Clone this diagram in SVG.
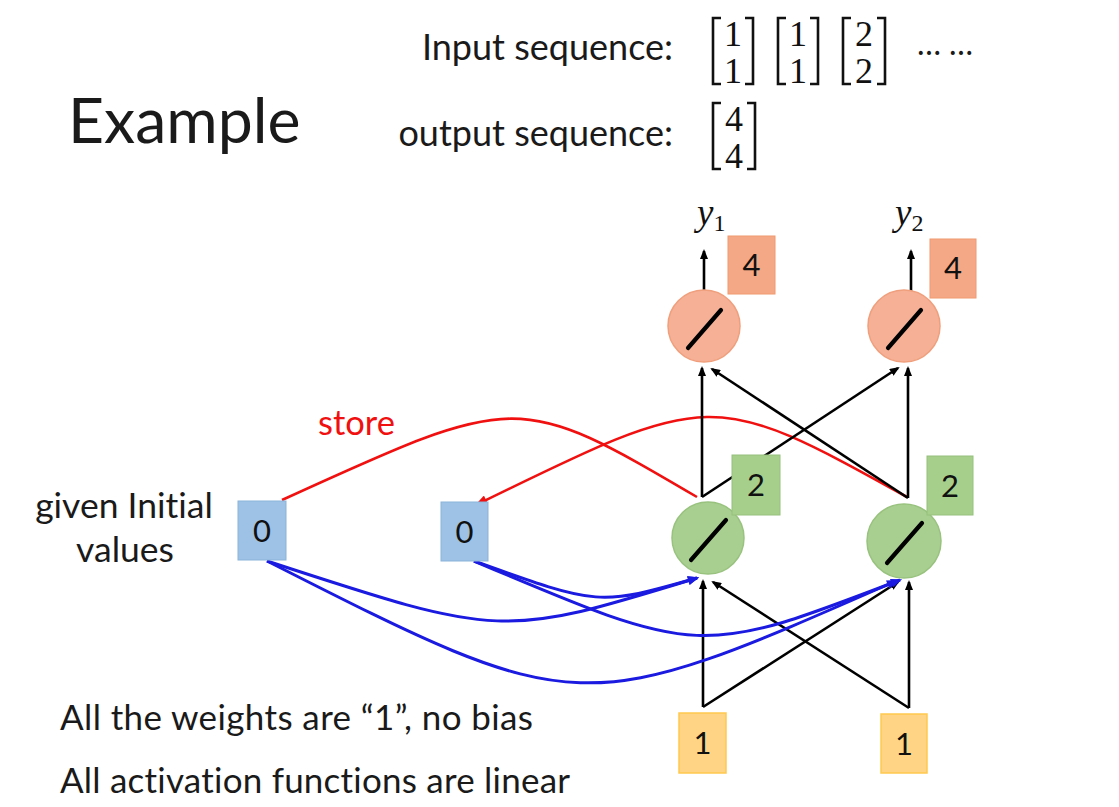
<svg xmlns="http://www.w3.org/2000/svg" width="1119" height="807" viewBox="0 0 1119 807">
<style>
  .t { font-family: Lato, "Open Sans", "Liberation Sans", sans-serif; fill: #1a1a1a; font-variant-ligatures: none; }
  .num { font-family: Lato, "Open Sans", "Liberation Sans", sans-serif; font-size: 31px; fill: #111; text-anchor: middle; }
  .math { font-family: "Liberation Serif", "DejaVu Serif", serif; font-size: 36px; fill: #111; text-anchor: middle; }
  .br { fill: none; stroke: #111; stroke-width: 2.6; }
  .blk { fill: none; stroke: #000; stroke-width: 2.6; }
  .blu { fill: none; stroke: #1a1ae0; stroke-width: 3; }
  .red { fill: none; stroke: #f01010; stroke-width: 2.6; }
  .slash { stroke: #000; stroke-width: 4.2; stroke-linecap: round; }
  .onode { fill: #f5b096; stroke: #f09f7c; stroke-width: 1.5; }
  .obox { fill: #f4a885; stroke: #f09a70; stroke-width: 1; }
  .gnode { fill: #a8cf8f; stroke: #98c27e; stroke-width: 1.5; }
  .gbox { fill: #a7cf8c; stroke: #96c07c; stroke-width: 1; }
  .bbox { fill: #9dc2e6; stroke: #8cb3da; stroke-width: 1; }
  .ybox { fill: #ffd585; stroke: #ffc94f; stroke-width: 1.5; }
</style>
<defs>
  <marker id="ab" viewBox="0 0 10 8" refX="8" refY="4" markerWidth="10" markerHeight="8" markerUnits="userSpaceOnUse" orient="auto">
    <path d="M0,0 L10,4 L0,8 z" fill="#000"/>
  </marker>
  <marker id="au" viewBox="0 0 10 8" refX="8" refY="4" markerWidth="13" markerHeight="9" markerUnits="userSpaceOnUse" orient="auto">
    <path d="M0,0 L10,4 L0,8 z" fill="#1a1ae0"/>
  </marker>
  <marker id="ar" viewBox="0 0 10 8" refX="9" refY="4" markerWidth="13" markerHeight="10" markerUnits="userSpaceOnUse" orient="auto">
    <path d="M0,0 L10,4 L0,8 z" fill="#f01010"/>
  </marker>
</defs>
<rect width="1119" height="807" fill="#fff"/>

<g id="title">
  <text class="t" x="68" y="143" font-size="62.5">Example</text>
</g>

<g id="sequences">
  <text class="t" x="673" y="60" font-size="36" text-anchor="end">Input sequence:</text>
  <text class="t" x="673" y="146" font-size="36" text-anchor="end">output sequence:</text>
  <path class="br" d="M721,18 H713 V84 H721 M745,18 H753 V84 H745"/>
  <text class="math" x="733" y="46">1</text>
  <text class="math" x="733" y="83">1</text>
  <path class="br" d="M786,18 H778 V84 H786 M810,18 H818 V84 H810"/>
  <text class="math" x="798" y="46">1</text>
  <text class="math" x="798" y="83">1</text>
  <path class="br" d="M851,18 H843 V84 H851 M877,18 H885 V84 H877"/>
  <text class="math" x="864" y="46">2</text>
  <text class="math" x="864" y="83">2</text>
  <text class="t" x="945" y="55" font-size="32" text-anchor="middle">… …</text>
  <path class="br" d="M721,103 H713 V169 H721 M747,103 H755 V169 H747"/>
  <text class="math" x="734" y="131">4</text>
  <text class="math" x="734" y="168">4</text>
</g>

<g id="labels">
  <text class="t" x="124" y="518" font-size="35.5" text-anchor="middle">given Initial</text>
  <text class="t" x="125" y="562" font-size="35.5" text-anchor="middle">values</text>
  <text class="t" x="318" y="435" font-size="34.5" style="fill:#f01010">store</text>
  <text class="t" x="60" y="730" font-size="35" textLength="473" lengthAdjust="spacing">All the weights are “1”, no bias</text>
  <text class="t" x="60" y="793" font-size="35" textLength="510" lengthAdjust="spacing">All activation functions are linear</text>
</g>

<g id="connectors">
  <path class="red" d="M282,500 C518,392 518,392 697,497"/>
  <path class="red" d="M907,497 C712,389 712,389 476,505" marker-end="url(#ar)"/>
  <line class="blk" x1="702" y1="497" x2="702" y2="368" marker-end="url(#ab)"/>
  <line class="blk" x1="702" y1="497" x2="898" y2="368" marker-end="url(#ab)"/>
  <line class="blk" x1="908" y1="498" x2="908" y2="368" marker-end="url(#ab)"/>
  <line class="blk" x1="908" y1="498" x2="712" y2="369" marker-end="url(#ab)"/>
  <line class="blk" x1="703" y1="707" x2="703" y2="581" marker-end="url(#ab)"/>
  <line class="blk" x1="703" y1="707" x2="898" y2="582" marker-end="url(#ab)"/>
  <line class="blk" x1="909" y1="708" x2="909" y2="582" marker-end="url(#ab)"/>
  <line class="blk" x1="909" y1="708" x2="713" y2="582" marker-end="url(#ab)"/>
  <line class="blk" x1="704" y1="290" x2="704" y2="251" marker-end="url(#ab)"/>
  <line class="blk" x1="911" y1="291" x2="911" y2="251" marker-end="url(#ab)"/>
  <path class="blu" d="M267,561 C502,638 502,638 697,578" marker-end="url(#au)"/>
  <path class="blu" d="M267,561 C580,720 580,720 896,581" marker-end="url(#au)"/>
  <path class="blu" d="M474,561 C599,606 599,606 697,578" marker-end="url(#au)"/>
  <path class="blu" d="M474,561 C700,657 700,657 900,580" marker-end="url(#au)"/>
</g>

<g id="y1">
  <circle class="onode" cx="704" cy="326" r="36"/>
  <line class="slash" x1="688" y1="348" x2="721" y2="310"/>
  <rect class="obox" x="728" y="236" width="47" height="58"/>
  <text class="num" x="751.5" y="276">4</text>
  <text x="697" y="225" font-family="Liberation Serif, serif" font-style="italic" font-size="37" fill="#111">y<tspan font-style="normal" font-size="24" dy="6">1</tspan></text>
</g>
<g id="y2">
  <circle class="onode" cx="904" cy="326" r="36"/>
  <line class="slash" x1="888" y1="348" x2="921" y2="310"/>
  <rect class="obox" x="930" y="239" width="46" height="59"/>
  <text class="num" x="953" y="279">4</text>
  <text x="895" y="225" font-family="Liberation Serif, serif" font-style="italic" font-size="37" fill="#111">y<tspan font-style="normal" font-size="24" dy="6">2</tspan></text>
</g>

<g id="h1">
  <circle class="gnode" cx="708" cy="538" r="36"/>
  <line class="slash" x1="691" y1="560" x2="726" y2="520"/>
  <rect class="gbox" x="732" y="455" width="48" height="60"/>
  <text class="num" x="756" y="496">2</text>
</g>
<g id="h2">
  <circle class="gnode" cx="904" cy="541" r="37"/>
  <line class="slash" x1="887" y1="563" x2="922" y2="523"/>
  <rect class="gbox" x="927" y="456" width="46" height="59"/>
  <text class="num" x="950" y="497">2</text>
</g>

<g id="m1">
  <rect class="bbox" x="238" y="501" width="48" height="59"/>
  <text class="num" x="262" y="542">0</text>
</g>
<g id="m2">
  <rect class="bbox" x="441" y="502" width="47" height="59"/>
  <text class="num" x="464.5" y="543">0</text>
</g>

<g id="x1">
  <rect class="ybox" x="679" y="713" width="47" height="60"/>
  <text class="num" x="702.5" y="754">1</text>
</g>
<g id="x2">
  <rect class="ybox" x="881" y="714" width="46" height="59"/>
  <text class="num" x="904" y="755">1</text>
</g>
</svg>
